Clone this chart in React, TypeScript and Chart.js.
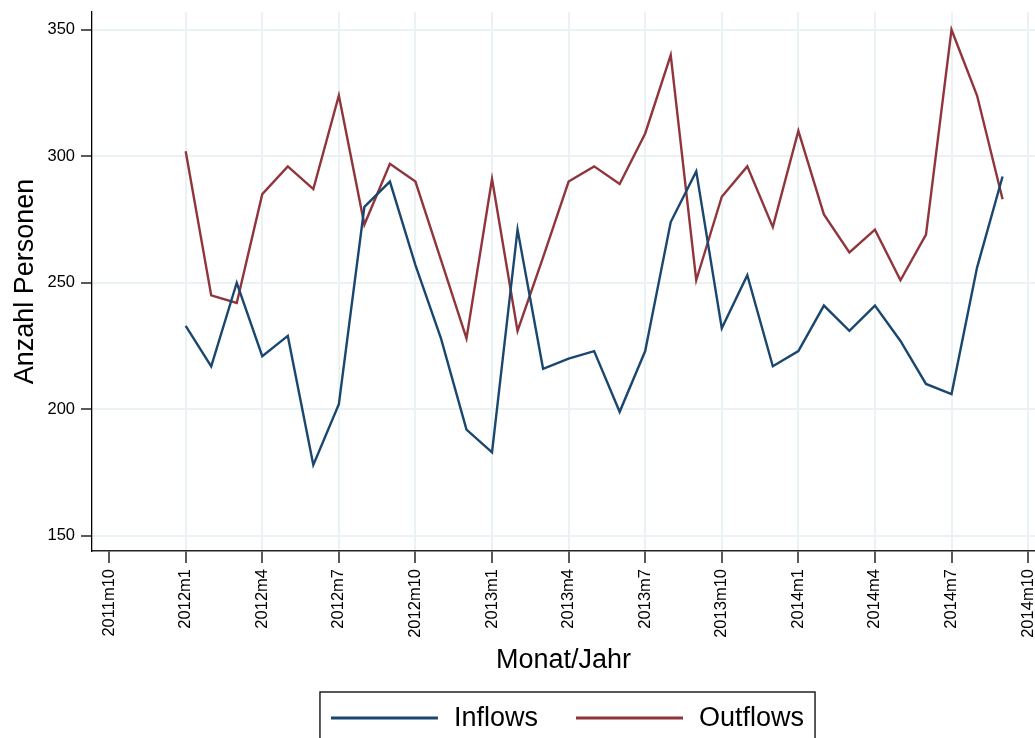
import { useEffect, useRef } from "react";
import { Chart, registerables } from "chart.js";

Chart.register(...registerables);

// ---- data ----
const months: string[] = [
  "2012m1", "2012m2", "2012m3", "2012m4", "2012m5", "2012m6",
  "2012m7", "2012m8", "2012m9", "2012m10", "2012m11", "2012m12",
  "2013m1", "2013m2", "2013m3", "2013m4", "2013m5", "2013m6",
  "2013m7", "2013m8", "2013m9", "2013m10", "2013m11", "2013m12",
  "2014m1", "2014m2", "2014m3", "2014m4", "2014m5", "2014m6",
  "2014m7", "2014m8", "2014m9",
];

const inflows: number[] = [
  233, 217, 250, 221, 229, 178, 202, 280, 290, 257, 228, 192,
  183, 271, 216, 220, 223, 199, 223, 274, 294, 232, 253, 217,
  223, 241, 231, 241, 227, 210, 206, 256, 292,
];

const outflows: number[] = [
  302, 245, 242, 285, 296, 287, 324, 273, 297, 290, 259, 228,
  291, 231, 260, 290, 296, 289, 309, 340, 251, 284, 296, 272,
  310, 277, 262, 271, 251, 269, 350, 324, 283,
];

const xTickLabels: string[] = [
  "2011m10", "2012m1", "2012m4", "2012m7", "2012m10", "2013m1", "2013m4",
  "2013m7", "2013m10", "2014m1", "2014m4", "2014m7", "2014m10",
];

const yTickValues: number[] = [150, 200, 250, 300, 350];

const seriesNames: string[] = ["Inflows", "Outflows"];
const seriesColors: string[] = ["#1A476F", "#90353B"];

// month label -> running month index (2011m10 = 0)
const monthIndex = (s: string): number => {
  const [y, m] = s.split("m").map(Number);
  return (y - 2011) * 12 + (m - 10);
};

const FONT = '"Liberation Sans", Arial, Helvetica, sans-serif';
const GRID = "#EAF2F3";

const boxLegend = {
  id: "boxLegend",
  afterDraw(chart: any) {
    const { ctx, chartArea } = chart;
    ctx.save();
    ctx.font = `27px ${FONT}`;
    const items = chart.data.datasets.map((d: any) => ({
      label: d.label as string,
      color: d.borderColor as string,
      w: ctx.measureText(d.label).width,
    }));
    const pad = 11, lineLen = 107, gapText = 16, gapItem = 38;
    const total =
      pad * 2 +
      items.reduce((s: number, it: any) => s + lineLen + gapText + it.w, 0) +
      gapItem * (items.length - 1);
    const cx = (chartArea.left + chartArea.right) / 2 + 4;
    const left = cx - total / 2;
    const top = chart.height - 46;
    const midY = top + 27;
    ctx.strokeStyle = "#000";
    ctx.lineWidth = 1.3;
    ctx.strokeRect(left, top, total, 90);
    let x = left + pad;
    items.forEach((it: any, i: number) => {
      ctx.strokeStyle = it.color;
      ctx.lineWidth = 3;
      ctx.beginPath();
      ctx.moveTo(x, midY - 1);
      ctx.lineTo(x + lineLen, midY - 1);
      ctx.stroke();
      x += lineLen + gapText;
      ctx.fillStyle = "#000";
      ctx.textBaseline = "middle";
      ctx.textAlign = "left";
      ctx.fillText(it.label, x, midY);
      x += it.w;
      if (i < items.length - 1) x += gapItem;
    });
    ctx.restore();
  },
};

export default function App() {
  const ref = useRef<HTMLCanvasElement>(null);

  useEffect(() => {
    if (!ref.current) return;
    const xTickPos = xTickLabels.map(monthIndex);
    const toPoints = (vals: number[]) =>
      vals.map((v, i) => ({ x: monthIndex(months[i]), y: v }));

    const chart = new Chart(ref.current, {
      type: "line",
      data: {
        datasets: [
          {
            label: seriesNames[0],
            data: toPoints(inflows),
            borderColor: seriesColors[0],
            backgroundColor: seriesColors[0],
            borderWidth: 2.4,
            pointRadius: 0,
            tension: 0,
            fill: false,
          },
          {
            label: seriesNames[1],
            data: toPoints(outflows),
            borderColor: seriesColors[1],
            backgroundColor: seriesColors[1],
            borderWidth: 2.4,
            pointRadius: 0,
            tension: 0,
            fill: false,
          },
        ],
      },
      options: {
        animation: false,
        responsive: false,
        devicePixelRatio: 1,
        layout: { padding: { top: 12, left: 0, right: 0, bottom: 61 } },
        plugins: {
          legend: { display: false },
          tooltip: { enabled: false },
        },
        scales: {
          x: {
            type: "linear",
            min: -0.67,
            max: 36.27,
            afterBuildTicks: (scale: any) => {
              scale.ticks = xTickPos.map((v) => ({ value: v }));
            },
            afterFit: (scale: any) => {
              scale.height = 126;
              scale.paddingLeft = 0;
              scale.paddingRight = 0;
            },
            ticks: {
              autoSkip: false,
              maxRotation: 90,
              minRotation: 90,
              padding: 6,
              color: "#000",
              font: { family: FONT, size: 16.5 },
              callback: (v: any) => {
                const i = xTickPos.indexOf(Number(v));
                return i >= 0 ? xTickLabels[i] : "";
              },
            },
            grid: {
              color: (c: any) => (c.index === 0 ? "rgba(0,0,0,0)" : GRID),
              lineWidth: 2,
              tickColor: "#000",
              tickWidth: 1.3,
              tickLength: 12,
            },
            border: { display: true, color: "#222", width: 1.4 },
            title: {
              display: true,
              text: "Monat/Jahr",
              color: "#000",
              font: { family: FONT, size: 27 },
              padding: { top: 0, bottom: 0 },
            },
          },
          y: {
            type: "linear",
            min: 144,
            max: 357,
            afterBuildTicks: (scale: any) => {
              scale.ticks = yTickValues.map((v) => ({ value: v }));
            },
            afterFit: (scale: any) => {
              scale.width = 92;
              scale.paddingTop = 0;
              scale.paddingBottom = 0;
            },
            ticks: {
              padding: 6,
              color: "#000",
              font: { family: FONT, size: 16.5 },
            },
            grid: {
              color: GRID,
              lineWidth: 2,
              tickColor: "#000",
              tickWidth: 1.3,
              tickLength: 11,
            },
            border: { display: true, color: "#000", width: 1.3 },
            title: {
              display: true,
              text: "Anzahl Personen",
              color: "#000",
              font: { family: FONT, size: 27 },
              padding: { top: 9, bottom: 0 },
            },
          },
        },
      },
      plugins: [boxLegend],
    } as any);

    return () => chart.destroy();
  }, []);

  return (
    <div style={{ position: "absolute", left: 0, top: 0, width: 1035, height: 738, background: "#fff" }}>
      <canvas ref={ref} width={1035} height={738} style={{ display: "block" }} />
    </div>
  );
}
